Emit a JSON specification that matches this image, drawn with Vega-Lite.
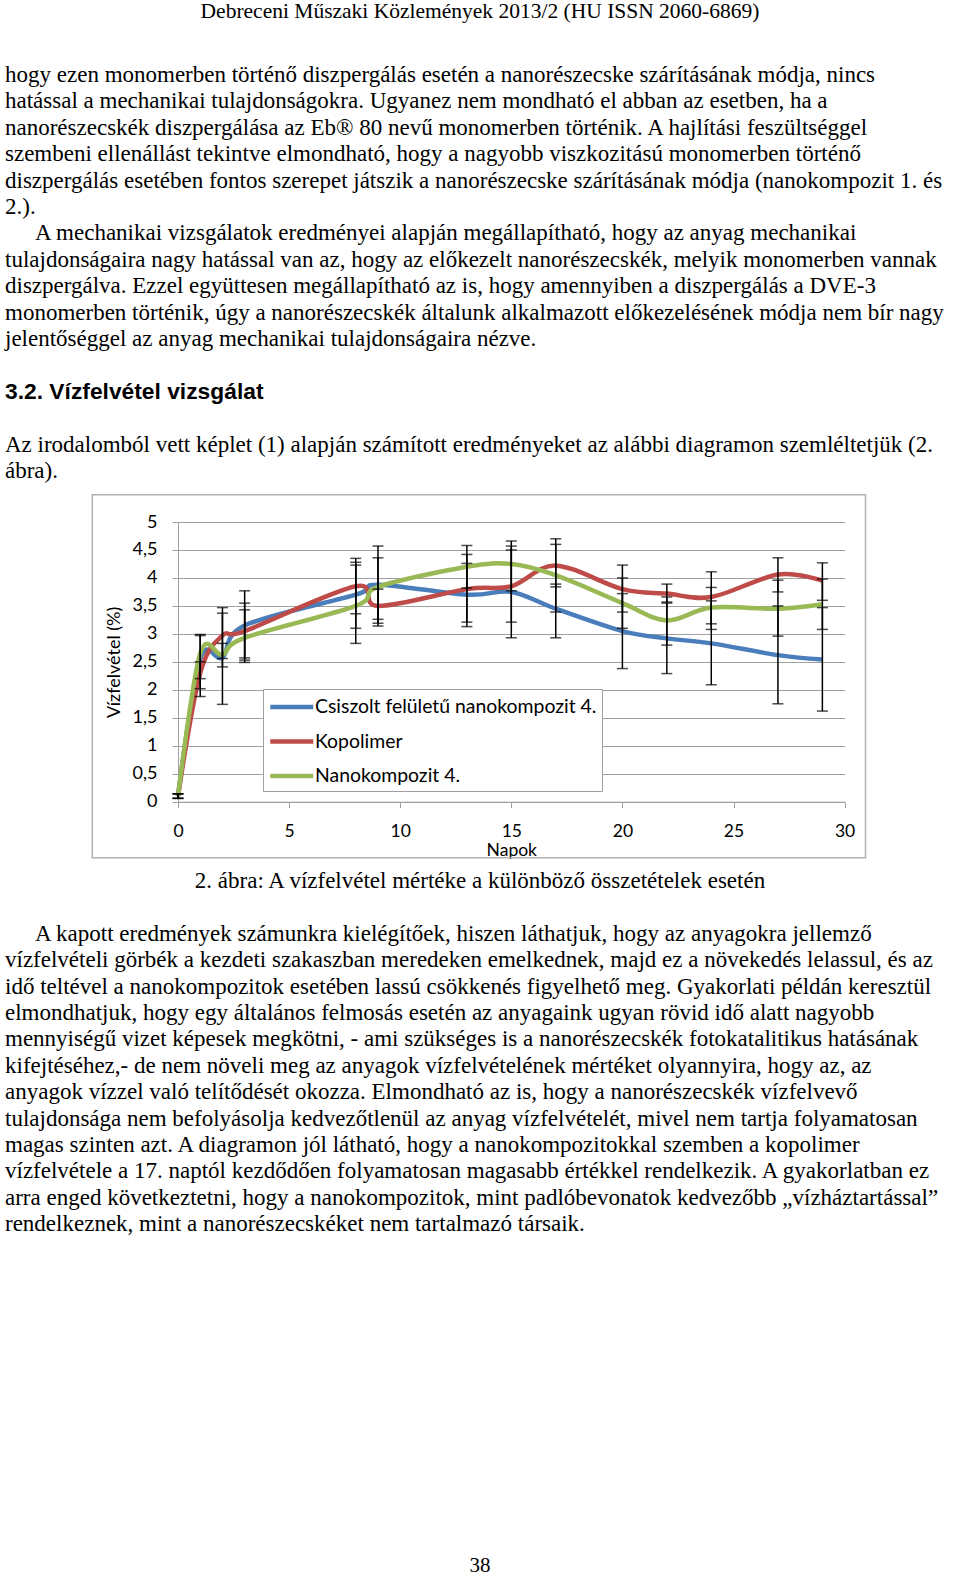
{
  "$schema": "https://vega.github.io/schema/vega-lite/v6.json",
  "background": "white",
  "padding": {"left": 5, "top": 0, "right": 5, "bottom": 0},
  "spacing": 10,
  "config": {
    "view": {"stroke": null},
    "text": {"color": "black"},
    "locale": {"number": {"decimal": ",", "thousands": " ", "grouping": [3], "currency": ["", ""]}},
    "axis": {
      "domainColor": "#a0a0a0", "tickColor": "#a0a0a0", "tickSize": 6,
      "labelFont": "Lato", "labelFontSize": 18, "labelColor": "black",
      "titleFont": "Lato", "titleFontSize": 18, "titleFontWeight": "normal", "titleColor": "black",
      "labelFlush": false, "labelOverlap": false
    },
    "axisX": {"grid": false, "tickCount": 6, "labelFontSize": 17.5, "labelPadding": 15, "titleFontSize": 17.5, "titlePadding": 1},
    "axisY": {"grid": true, "gridColor": "#a0a0a0", "gridWidth": 1.2, "tickCount": 10, "format": "~g", "labelPadding": 15, "titlePadding": 9}
  },
  "datasets": {
    "top_lines": [
      {"line": 0, "text": "hogy ezen monomerben történő diszpergálás esetén a nanorészecske szárításának módja, nincs"},
      {"line": 1, "text": "hatással a mechanikai tulajdonságokra. Ugyanez nem mondható el abban az esetben, ha a"},
      {"line": 2, "text": "nanorészecskék diszpergálása az Eb® 80 nevű monomerben történik. A hajlítási feszültséggel"},
      {"line": 3, "text": "szembeni ellenállást tekintve elmondható, hogy a nagyobb viszkozitású monomerben történő"},
      {"line": 4, "text": "diszpergálás esetében fontos szerepet játszik a nanorészecske szárításának módja (nanokompozit 1. és"},
      {"line": 5, "text": "2.)."},
      {"line": 7, "text": "tulajdonságaira nagy hatással van az, hogy az előkezelt nanorészecskék, melyik monomerben vannak"},
      {"line": 8, "text": "diszpergálva. Ezzel együttesen megállapítható az is, hogy amennyiben a diszpergálás a DVE-3"},
      {"line": 9, "text": "monomerben történik, úgy a nanorészecskék általunk alkalmazott előkezelésének módja nem bír nagy"},
      {"line": 10, "text": "jelentőséggel az anyag mechanikai tulajdonságaira nézve."},
      {"line": 14, "text": "Az irodalomból vett képlet (1) alapján számított eredményeket az alábbi diagramon szemléltetjük (2."},
      {"line": 15, "text": "ábra)."}
    ],
    "top_indent": [
      {"line": 6, "text": "A mechanikai vizsgálatok eredményei alapján megállapítható, hogy az anyag mechanikai"}
    ],
    "heading": [
      {"line": 12, "text": "3.2. Vízfelvétel vizsgálat"}
    ],
    "bottom_indent": [
      {"line": 2, "text": "A kapott eredmények számunkra kielégítőek, hiszen láthatjuk, hogy az anyagokra jellemző"}
    ],
    "bottom_lines": [
      {"line": 3, "text": "vízfelvételi görbék a kezdeti szakaszban meredeken emelkednek, majd ez a növekedés lelassul, és az"},
      {"line": 4, "text": "idő teltével a nanokompozitok esetében lassú csökkenés figyelhető meg. Gyakorlati példán keresztül"},
      {"line": 5, "text": "elmondhatjuk, hogy egy általános felmosás esetén az anyagaink ugyan rövid idő alatt nagyobb"},
      {"line": 6, "text": "mennyiségű vizet képesek megkötni, - ami szükséges is a nanorészecskék fotokatalitikus hatásának"},
      {"line": 7, "text": "kifejtéséhez,- de nem növeli meg az anyagok vízfelvételének mértéket olyannyira, hogy az, az"},
      {"line": 8, "text": "anyagok vízzel való telítődését okozza. Elmondható az is, hogy a nanorészecskék vízfelvevő"},
      {"line": 9, "text": "tulajdonsága nem befolyásolja kedvezőtlenül az anyag vízfelvételét, mivel nem tartja folyamatosan"},
      {"line": 10, "text": "magas szinten azt. A diagramon jól látható, hogy a nanokompozitokkal szemben a kopolimer"},
      {"line": 11, "text": "vízfelvétele a 17. naptól kezdődően folyamatosan magasabb értékkel rendelkezik. A gyakorlatban ez"},
      {"line": 12, "text": "arra enged következtetni, hogy a nanokompozitok, mint padlóbevonatok kedvezőbb „vízháztartással”"},
      {"line": 13, "text": "rendelkeznek, mint a nanorészecskéket nem tartalmazó társaik."}
    ],
    "water": [
      {"series": "Csiszolt felületű nanokompozit 4.", "day": 0, "value": 0.1, "lo": 0.06, "hi": 0.14},
      {"series": "Csiszolt felületű nanokompozit 4.", "day": 1, "value": 2.55, "lo": 2.2, "hi": 2.99},
      {"series": "Csiszolt felületű nanokompozit 4.", "day": 2, "value": 2.58, "lo": 1.74, "hi": 3.47},
      {"series": "Csiszolt felületű nanokompozit 4.", "day": 3, "value": 3.15, "lo": 2.53, "hi": 3.77},
      {"series": "Csiszolt felületű nanokompozit 4.", "day": 8, "value": 3.7, "lo": 3.1, "hi": 4.28},
      {"series": "Csiszolt felületű nanokompozit 4.", "day": 9, "value": 3.88, "lo": 3.19, "hi": 4.57},
      {"series": "Csiszolt felületű nanokompozit 4.", "day": 13, "value": 3.7, "lo": 3.13, "hi": 4.26},
      {"series": "Csiszolt felületű nanokompozit 4.", "day": 15, "value": 3.75, "lo": 2.93, "hi": 4.57},
      {"series": "Csiszolt felületű nanokompozit 4.", "day": 17, "value": 3.45, "lo": 2.93, "hi": 3.89},
      {"series": "Csiszolt felületű nanokompozit 4.", "day": 20, "value": 3.05, "lo": 2.38, "hi": 3.72},
      {"series": "Csiszolt felületű nanokompozit 4.", "day": 22, "value": 2.92, "lo": 2.29, "hi": 3.55},
      {"series": "Csiszolt felületű nanokompozit 4.", "day": 24, "value": 2.83, "lo": 2.09, "hi": 3.59},
      {"series": "Csiszolt felületű nanokompozit 4.", "day": 27, "value": 2.62, "lo": 1.75, "hi": 3.5},
      {"series": "Csiszolt felületű nanokompozit 4.", "day": 29, "value": 2.54, "lo": 1.62, "hi": 3.47},
      {"series": "Kopolimer", "day": 0, "value": 0.1, "lo": 0.06, "hi": 0.14},
      {"series": "Kopolimer", "day": 1, "value": 2.3, "lo": 1.88, "hi": 2.5},
      {"series": "Kopolimer", "day": 2, "value": 2.97, "lo": 2.56, "hi": 3.37},
      {"series": "Kopolimer", "day": 3, "value": 3.05, "lo": 2.57, "hi": 3.55},
      {"series": "Kopolimer", "day": 8, "value": 3.85, "lo": 3.36, "hi": 4.35},
      {"series": "Kopolimer", "day": 9, "value": 3.5, "lo": 3.14, "hi": 3.8},
      {"series": "Kopolimer", "day": 13, "value": 3.8, "lo": 3.21, "hi": 4.42},
      {"series": "Kopolimer", "day": 15, "value": 3.85, "lo": 3.21, "hi": 4.5},
      {"series": "Kopolimer", "day": 17, "value": 4.22, "lo": 3.84, "hi": 4.6},
      {"series": "Kopolimer", "day": 20, "value": 3.8, "lo": 3.39, "hi": 4.23},
      {"series": "Kopolimer", "day": 22, "value": 3.72, "lo": 3.57, "hi": 3.89},
      {"series": "Kopolimer", "day": 24, "value": 3.66, "lo": 3.18, "hi": 4.11},
      {"series": "Kopolimer", "day": 27, "value": 4.06, "lo": 3.75, "hi": 4.36},
      {"series": "Kopolimer", "day": 29, "value": 3.95, "lo": 3.6, "hi": 4.27},
      {"series": "Nanokompozit 4.", "day": 0, "value": 0.1, "lo": 0.06, "hi": 0.14},
      {"series": "Nanokompozit 4.", "day": 1, "value": 2.65, "lo": 2.02, "hi": 2.97},
      {"series": "Nanokompozit 4.", "day": 2, "value": 2.63, "lo": 2.41, "hi": 2.83},
      {"series": "Nanokompozit 4.", "day": 3, "value": 2.93, "lo": 2.49, "hi": 3.43},
      {"series": "Nanokompozit 4.", "day": 8, "value": 3.5, "lo": 2.83, "hi": 4.23},
      {"series": "Nanokompozit 4.", "day": 9, "value": 3.84, "lo": 3.26, "hi": 4.36},
      {"series": "Nanokompozit 4.", "day": 13, "value": 4.2, "lo": 3.82, "hi": 4.58},
      {"series": "Nanokompozit 4.", "day": 15, "value": 4.25, "lo": 3.77, "hi": 4.66},
      {"series": "Nanokompozit 4.", "day": 17, "value": 4.05, "lo": 3.39, "hi": 4.7},
      {"series": "Nanokompozit 4.", "day": 20, "value": 3.55, "lo": 3.1, "hi": 4.0},
      {"series": "Nanokompozit 4.", "day": 22, "value": 3.24, "lo": 2.8, "hi": 3.66},
      {"series": "Nanokompozit 4.", "day": 24, "value": 3.47, "lo": 3.08, "hi": 3.83},
      {"series": "Nanokompozit 4.", "day": 27, "value": 3.45, "lo": 2.96, "hi": 3.96},
      {"series": "Nanokompozit 4.", "day": 29, "value": 3.53, "lo": 3.08, "hi": 3.98}
    ]
  },
  "vconcat": [
    {
      "width": 950,
      "height": 482,
      "layer": [
        {
          "data": {"values": [{"text": "Debreceni Műszaki Közlemények 2013/2 (HU ISSN 2060-6869)"}]},
          "mark": {"type": "text", "align": "center", "baseline": "middle", "font": "Liberation Serif", "fontSize": 21.5},
          "encoding": {
            "x": {"datum": 0.5, "type": "quantitative", "scale": {"domain": [0, 1], "nice": false, "zero": false}, "axis": null},
            "y": {"datum": -2.37, "type": "quantitative", "scale": {"domain": [-2.841, 15.417], "reverse": true, "nice": false, "zero": false}, "axis": null},
            "text": {"field": "text"}
          }
        },
        {
          "data": {"name": "top_lines"},
          "mark": {"type": "text", "align": "left", "baseline": "middle", "font": "Liberation Serif", "fontSize": 23},
          "encoding": {
            "x": {"datum": 0, "type": "quantitative"},
            "y": {"field": "line", "type": "quantitative"},
            "text": {"field": "text"}
          }
        },
        {
          "data": {"name": "top_indent"},
          "mark": {"type": "text", "align": "left", "baseline": "middle", "font": "Liberation Serif", "fontSize": 23, "dx": 30},
          "encoding": {
            "x": {"datum": 0, "type": "quantitative"},
            "y": {"field": "line", "type": "quantitative"},
            "text": {"field": "text"}
          }
        },
        {
          "data": {"name": "heading"},
          "mark": {"type": "text", "align": "left", "baseline": "middle", "font": "Liberation Sans", "fontWeight": "bold", "fontSize": 22.8},
          "encoding": {
            "x": {"datum": 0, "type": "quantitative"},
            "y": {"field": "line", "type": "quantitative"},
            "text": {"field": "text"}
          }
        }
      ]
    },
    {
      "spacing": 0,
      "hconcat": [
        {
          "width": 86,
          "height": 1,
          "data": {"values": []},
          "mark": {"type": "text"},
          "encoding": {}
        },
        {
          "width": 666.6,
          "height": 279.7,
          "data": {"name": "water"},
          "layer": [
            {
              "data": {"values": [{}]},
              "mark": {"type": "rect", "fill": "transparent", "stroke": "#b0b0b0", "strokeWidth": 1.5},
              "encoding": {
                "x": {"datum": -3.857, "type": "quantitative"},
                "x2": {"datum": 30.94},
                "y": {"datum": 5.488, "type": "quantitative"},
                "y2": {"datum": -1.0}
              }
            },
            {
              "mark": {"type": "line", "interpolate": "cardinal", "strokeWidth": 4.5},
              "encoding": {
                "x": {
                  "field": "day", "type": "quantitative", "title": "Napok",
                  "scale": {"domain": [0, 30], "nice": false, "zero": false}
                },
                "y": {
                  "field": "value", "type": "quantitative", "title": "Vízfelvétel (%)",
                  "scale": {"domain": [0, 5], "nice": false}
                },
                "color": {
                  "field": "series", "type": "nominal",
                  "scale": {
                    "domain": ["Csiszolt felületű nanokompozit 4.", "Kopolimer", "Nanokompozit 4."],
                    "range": ["#4a7ebb", "#be4b48", "#98b954"]
                  },
                  "legend": {
                    "title": null, "orient": "none", "legendX": 258, "legendY": 689,
                    "symbolType": "M-1,0H3", "symbolSize": 462, "symbolStrokeWidth": 4.5,
                    "labelOffset": 21, "labelFont": "Lato", "labelFontSize": 19.4, "labelColor": "black", "labelLimit": 400,
                    "padding": 5, "rowPadding": 11.5, "fillColor": "white", "strokeColor": "#a0a0a0"
                  }
                }
              }
            },
            {
              "mark": {"type": "rule", "color": "black", "strokeWidth": 1.5},
              "encoding": {
                "x": {"field": "day", "type": "quantitative", "title": "Napok"},
                "y": {"field": "lo", "type": "quantitative", "title": "Vízfelvétel (%)"},
                "y2": {"field": "hi"}
              }
            },
            {
              "mark": {"type": "tick", "orient": "horizontal", "color": "black", "size": 11, "thickness": 1.5},
              "encoding": {
                "x": {"field": "day", "type": "quantitative", "title": "Napok"},
                "y": {"field": "lo", "type": "quantitative", "title": "Vízfelvétel (%)"}
              }
            },
            {
              "mark": {"type": "tick", "orient": "horizontal", "color": "black", "size": 11, "thickness": 1.5},
              "encoding": {
                "x": {"field": "day", "type": "quantitative", "title": "Napok"},
                "y": {"field": "hi", "type": "quantitative", "title": "Vízfelvétel (%)"}
              }
            }
          ]
        }
      ]
    },
    {
      "width": 950,
      "height": 700,
      "layer": [
        {
          "data": {"values": [{"line": 0, "text": "2. ábra: A vízfelvétel mértéke a különböző összetételek esetén"}]},
          "mark": {"type": "text", "align": "center", "baseline": "middle", "font": "Liberation Serif", "fontSize": 23},
          "encoding": {
            "x": {"datum": 0.5, "type": "quantitative", "scale": {"domain": [0, 1], "nice": false, "zero": false}, "axis": null},
            "y": {"field": "line", "type": "quantitative", "scale": {"domain": [-0.4545, 26.061], "reverse": true, "nice": false, "zero": false}, "axis": null},
            "text": {"field": "text"}
          }
        },
        {
          "data": {"name": "bottom_indent"},
          "mark": {"type": "text", "align": "left", "baseline": "middle", "font": "Liberation Serif", "fontSize": 23, "dx": 30},
          "encoding": {
            "x": {"datum": 0, "type": "quantitative"},
            "y": {"field": "line", "type": "quantitative"},
            "text": {"field": "text"}
          }
        },
        {
          "data": {"name": "bottom_lines"},
          "mark": {"type": "text", "align": "left", "baseline": "middle", "font": "Liberation Serif", "fontSize": 23},
          "encoding": {
            "x": {"datum": 0, "type": "quantitative"},
            "y": {"field": "line", "type": "quantitative"},
            "text": {"field": "text"}
          }
        },
        {
          "data": {"values": [{"text": "38"}]},
          "mark": {"type": "text", "align": "center", "baseline": "middle", "font": "Liberation Serif", "fontSize": 21},
          "encoding": {
            "x": {"datum": 0.5, "type": "quantitative"},
            "y": {"datum": 25.95, "type": "quantitative"},
            "text": {"field": "text"}
          }
        }
      ]
    }
  ]
}
